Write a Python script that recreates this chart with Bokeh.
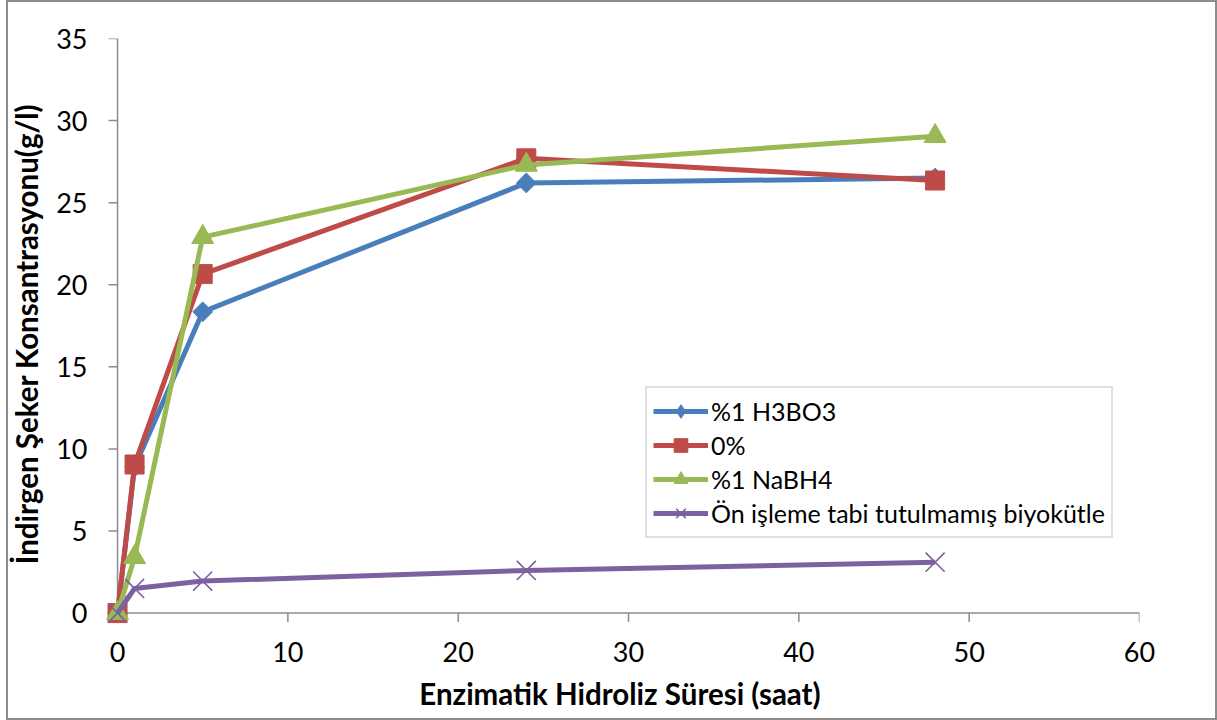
import math
from bokeh.plotting import figure
from bokeh.models import Legend, LegendItem, FixedTicker
from bokeh.embed import file_html
from bokeh.resources import INLINE

hours = [0, 1, 5, 24, 48]
h3bo3 = [0, 8.9, 18.35, 26.2, 26.5]
zero = [0, 9.05, 20.65, 27.7, 26.35]
nabh4 = [0, 3.4, 22.9, 27.3, 29.05]
untreated = [0, 1.5, 1.95, 2.6, 3.1]
names = ["%1 H3BO3", "0%", "%1 NaBH4", "Ön işleme tabi tutulmamış biyokütle"]
x_ticks = [0, 10, 20, 30, 40, 50, 60]
y_ticks = [0, 5, 10, 15, 20, 25, 30, 35]

FONT = "Lato"
AXC = "#8c8c8c"
border_css = """
:host { position: relative; }
:host::after {
  content: "";
  position: absolute;
  left: 6px; top: 0px; width: 1207px; height: 716px;
  border: 2px solid #8c8c8c;
  pointer-events: none;
  z-index: 100;
}
"""
p = figure(width=1217, height=720, output_backend="svg", toolbar_location=None,
           x_range=(-1, 60), y_range=(-1, 35),
           min_border_left=100, min_border_right=78, min_border_top=38, min_border_bottom=91,
           stylesheets=[border_css])
p.outline_line_color = None
p.xgrid.visible = False
p.ygrid.visible = False
p.background_fill_color = "white"
p.border_fill_color = "white"

for ax, ticks in ((p.xaxis[0], x_ticks), (p.yaxis[0], y_ticks)):
    ax.ticker = FixedTicker(ticks=ticks)
    ax.axis_line_color = None
    ax.major_tick_line_color = None
    ax.major_tick_out = 0
    ax.major_tick_in = 0
    ax.minor_tick_line_color = None
    ax.major_label_text_font = FONT
    ax.major_label_text_font_size = "27px"
    ax.major_label_text_color = "black"
    ax.axis_label_text_font = FONT
    ax.axis_label_text_font_size = "29.5px"
    ax.axis_label_text_font_style = "bold"
    ax.axis_label_text_color = "black"

p.xaxis.axis_label = "Enzimatik Hidroliz Süresi (saat)"
p.yaxis.axis_label = "İndirgen Şeker Konsantrasyonu(g/l)"
p.xaxis.major_label_standoff = 12
p.yaxis.major_label_standoff = 13
p.xaxis.axis_label_standoff = 11
p.yaxis.axis_label_standoff = 9

# axis lines and tick marks at the zero crossing
p.segment(x0=[x_ticks[0], x_ticks[0]], y0=[y_ticks[0], y_ticks[0]],
          x1=[x_ticks[0], x_ticks[-1]], y1=[y_ticks[-1], y_ticks[0]],
          line_color=AXC, line_width=1.5)
p.ray(x=[x_ticks[0]] * len(y_ticks), y=y_ticks, length=9, length_units="screen",
      angle=math.pi, line_color=AXC, line_width=1.5)
p.ray(x=x_ticks, y=[y_ticks[0]] * len(x_ticks), length=9, length_units="screen",
      angle=-math.pi / 2, line_color=AXC, line_width=1.5)

colors = ["#4a7ebb", "#be4b48", "#98b954", "#7d60a0"]
series = [h3bo3, zero, nabh4, untreated]
nan = float("nan")
items = []
for name, ys, c in zip(names, series, colors):
    l = p.line(hours, ys, line_color=c, line_width=5)
    if name == "%1 H3BO3":
        p.scatter(hours, ys, marker="square", angle=math.pi / 4, size=14,
                  fill_color=c, line_color=c)
        # legend-only glyph (no drawable point) so the legend shows a diamond
        m = p.scatter(x=[nan], y=[nan], marker="diamond", size=14, fill_color=c, line_color=c)
    elif name == "0%":
        m = p.scatter(hours, ys, marker="square", size=19, fill_color=c, line_color=c)
    elif name == "%1 NaBH4":
        m = p.scatter(hours, ys, marker="triangle", size=22, fill_color=c, line_color=c)
    else:
        m = p.scatter(hours, ys, marker="x", size=27, line_color=c, line_width=1.6)
    items.append(LegendItem(label=name, renderers=[l, m]))

legend = Legend(items=items, location=(545, 91))
legend.label_text_font = FONT
legend.label_text_font_size = "25px"
legend.label_text_color = "black"
legend.glyph_width = 55
legend.glyph_height = 34
legend.label_height = 30
legend.spacing = 0
legend.padding = 6
legend.margin = 0
legend.label_standoff = 3
legend.border_line_color = "#bfbfbf"
legend.border_line_width = 2
legend.background_fill_color = "white"
legend.background_fill_alpha = 1
p.add_layout(legend, "center")

open("out.html", "w").write(file_html(p, INLINE))
